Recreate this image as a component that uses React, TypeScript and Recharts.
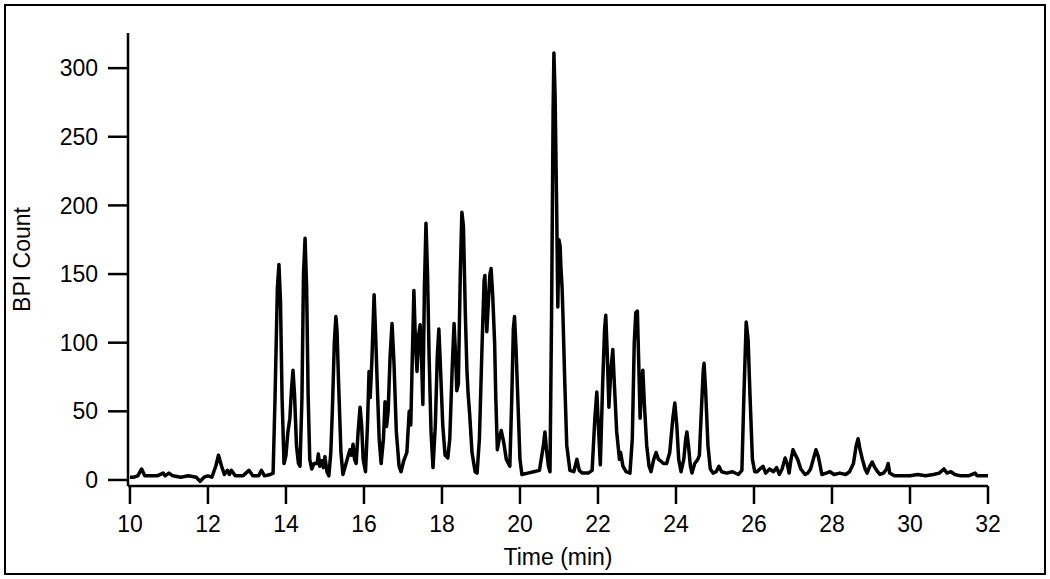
import { LineChart, Line, XAxis, YAxis } from 'recharts';

// retention time (min)
const times = [
  10.0, 10.1, 10.2, 10.3, 10.38, 10.5, 10.7, 10.85, 10.9, 11.0, 11.1, 11.3, 11.5, 11.7, 11.8, 11.9,
  12.0, 12.1, 12.2, 12.27, 12.35, 12.42, 12.5, 12.55, 12.6, 12.7, 12.9, 13.05, 13.15, 13.3, 13.37, 13.45,
  13.6, 13.67, 13.72, 13.78, 13.82, 13.86, 13.9, 13.95, 14.0, 14.05, 14.1, 14.14, 14.18, 14.22, 14.27, 14.32,
  14.36, 14.41, 14.45, 14.49, 14.53, 14.57, 14.61, 14.66, 14.72, 14.8, 14.83, 14.87, 14.92, 14.96, 15.0, 15.05,
  15.1, 15.15, 15.19, 15.24, 15.28, 15.31, 15.35, 15.41, 15.46, 15.52, 15.58, 15.64, 15.68, 15.72, 15.76, 15.8,
  15.85, 15.9, 15.94, 15.98, 16.04, 16.09, 16.13, 16.16, 16.2, 16.23, 16.26, 16.3, 16.34, 16.39, 16.44, 16.5,
  16.54, 16.58, 16.62, 16.67, 16.72, 16.77, 16.83, 16.9, 16.95, 17.02, 17.1, 17.16, 17.2, 17.24, 17.28, 17.32,
  17.36, 17.4, 17.44, 17.48, 17.51, 17.55, 17.59, 17.63, 17.67, 17.72, 17.77, 17.83, 17.88, 17.92, 17.96, 18.02,
  18.08, 18.15, 18.2, 18.26, 18.31, 18.35, 18.38, 18.42, 18.47, 18.51, 18.55, 18.6, 18.64, 18.67, 18.71, 18.77,
  18.85, 18.9, 18.96, 19.03, 19.08, 19.1, 19.15, 19.19, 19.23, 19.26, 19.3, 19.35, 19.38, 19.42, 19.47, 19.52,
  19.58, 19.65, 19.74, 19.79, 19.83, 19.86, 19.9, 19.95, 20.0, 20.05, 20.2, 20.35, 20.5, 20.6, 20.64, 20.68,
  20.73, 20.77, 20.81, 20.85, 20.87, 20.9, 20.94, 20.97, 21.0, 21.03, 21.05, 21.08, 21.1, 21.15, 21.2, 21.28,
  21.38, 21.46, 21.52, 21.6, 21.75, 21.85, 21.92, 21.97, 22.01, 22.06, 22.12, 22.17, 22.2, 22.24, 22.28, 22.33,
  22.38, 22.42, 22.48, 22.55, 22.58, 22.64, 22.72, 22.82, 22.88, 22.93, 22.97, 23.01, 23.05, 23.08, 23.12, 23.15,
  23.19, 23.25, 23.31, 23.36, 23.43, 23.49, 23.55, 23.6, 23.68, 23.76, 23.84, 23.92, 23.97, 24.02, 24.07, 24.13,
  24.2, 24.25, 24.28, 24.32, 24.37, 24.41, 24.48, 24.56, 24.6, 24.65, 24.7, 24.72, 24.76, 24.82, 24.88, 24.95,
  25.03, 25.1, 25.17, 25.3, 25.45, 25.6, 25.69, 25.74, 25.8, 25.85, 25.9, 25.96, 26.02, 26.08, 26.15, 26.23,
  26.3, 26.4, 26.5, 26.58, 26.65, 26.72, 26.8, 26.85, 26.9, 26.95, 27.0, 27.05, 27.12, 27.2, 27.31, 27.38,
  27.45, 27.52, 27.59, 27.65, 27.74, 27.85, 27.95, 28.05, 28.2, 28.35, 28.45, 28.55, 28.62, 28.67, 28.72, 28.78,
  28.85, 28.9, 28.97, 29.03, 29.1, 29.17, 29.23, 29.32, 29.4, 29.44, 29.48, 29.6, 29.8, 30.0, 30.2, 30.4,
  30.6, 30.75, 30.87, 30.95, 31.05, 31.15, 31.3, 31.5, 31.67, 31.72, 31.85, 32.0,
];

// base peak intensity at each time above
const counts = [
  2, 2, 3, 8, 3, 3, 3, 5, 3, 5, 3, 2, 3, 2, -1, 2,
  3, 2, 10, 18, 10, 4, 7, 4, 7, 3, 3, 7, 3, 3, 7, 3,
  4, 5, 60, 140, 157, 130, 60, 12, 18, 35, 45, 65, 80, 62, 25, 12,
  10, 60, 150, 176, 140, 60, 15, 8, 12, 12, 19, 10, 14, 9, 17, 6,
  3, 20, 51, 100, 119, 108, 70, 20, 4, 10, 16, 22, 18, 26, 15, 12,
  35, 53, 40, 15, 6, 40, 79, 60, 85, 110, 135, 105, 70, 30, 12, 30,
  57, 39, 50, 90, 114, 85, 35, 10, 6, 14, 20, 50, 40, 90, 138, 100,
  79, 105, 113, 85, 55, 140, 187, 150, 90, 35, 9, 40, 90, 110, 83, 40,
  18, 16, 30, 80, 114, 90, 65, 70, 150, 195, 185, 120, 80, 63, 48, 20,
  6, 5, 30, 100, 145, 149, 108, 130, 150, 154, 135, 100, 60, 22, 30, 36,
  28, 15, 10, 60, 110, 119, 95, 55, 15, 4, 5, 6, 7, 25, 35, 22,
  10, 6, 120, 270, 311, 280, 200, 126, 175, 170, 155, 140, 122, 70, 25, 7,
  6, 15, 7, 5, 5, 7, 45, 64, 40, 11, 70, 110, 120, 90, 53, 80,
  95, 70, 35, 15, 20, 10, 6, 5, 30, 100, 122, 123, 80, 45, 70, 80,
  55, 25, 10, 6, 15, 20, 15, 14, 12, 12, 20, 45, 56, 40, 15, 6,
  15, 30, 35, 25, 10, 5, 12, 15, 18, 50, 80, 85, 65, 25, 8, 5,
  6, 10, 6, 5, 6, 4, 7, 60, 115, 102, 60, 15, 6, 6, 8, 10,
  5, 8, 6, 9, 4, 8, 16, 12, 5, 15, 22, 19, 15, 8, 4, 5,
  8, 15, 22, 17, 4, 5, 6, 4, 5, 4, 6, 12, 25, 30, 22, 15,
  8, 5, 10, 13, 9, 6, 4, 5, 8, 12, 5, 3, 3, 3, 4, 3,
  4, 5, 8, 5, 6, 4, 3, 3, 5, 3, 3, 3,
];

const xTicks = [10, 12, 14, 16, 18, 20, 22, 24, 26, 28, 30, 32];
const yTicks = [0, 50, 100, 150, 200, 250, 300];

const data = times.map((t, i) => ({ t, v: counts[i] }));

const font = '"Liberation Sans", Arial, sans-serif';
const tickStyle = { fontSize: 23, fill: '#000', fontFamily: font };

export default function App() {
  return (
    <div style={{ position: 'absolute', left: 0, top: 0, width: 1050, height: 579, background: '#fff' }}>
      <div
        style={{
          position: 'absolute', left: 4, top: 4, width: 1038, height: 567,
          border: '2px solid #000',
        }}
      />
      <LineChart
        width={1050}
        height={579}
        data={data}
        margin={{ top: 33, right: 62, left: 20, bottom: 8 }}
        style={{ position: 'absolute', left: 0, top: 0 }}
      >
        <XAxis
          dataKey="t"
          type="number"
          domain={[9.95, 32]}
          ticks={xTicks}
          allowDataOverflow
          height={85}
          tickSize={18}
          tickMargin={12}
          tick={tickStyle}
          axisLine={{ stroke: '#000', strokeWidth: 2.5 }}
          tickLine={{ stroke: '#000', strokeWidth: 2.5 }}
          label={{ value: 'Time (min)', position: 'insideBottom', offset: 6, style: tickStyle }}
        />
        <YAxis
          type="number"
          domain={[-4.4, 325.6]}
          ticks={yTicks}
          allowDataOverflow
          width={108}
          tickSize={20}
          tickMargin={10}
          tick={tickStyle}
          axisLine={{ stroke: '#000', strokeWidth: 2.5 }}
          tickLine={{ stroke: '#000', strokeWidth: 2.5 }}
          label={({ viewBox }: any) => {
            const cx = viewBox.x + 2;
            const cy = viewBox.y + viewBox.height / 2;
            return (
              <text
                x={cx}
                y={cy}
                transform={`rotate(-90 ${cx} ${cy})`}
                textAnchor="middle"
                dominantBaseline="central"
                style={tickStyle}
              >
                BPI Count
              </text>
            );
          }}
        />
        <Line
          dataKey="v"
          type="linear"
          stroke="#000"
          strokeWidth={3.5}
          strokeLinejoin="round"
          dot={false}
          isAnimationActive={false}
        />
      </LineChart>
    </div>
  );
}
